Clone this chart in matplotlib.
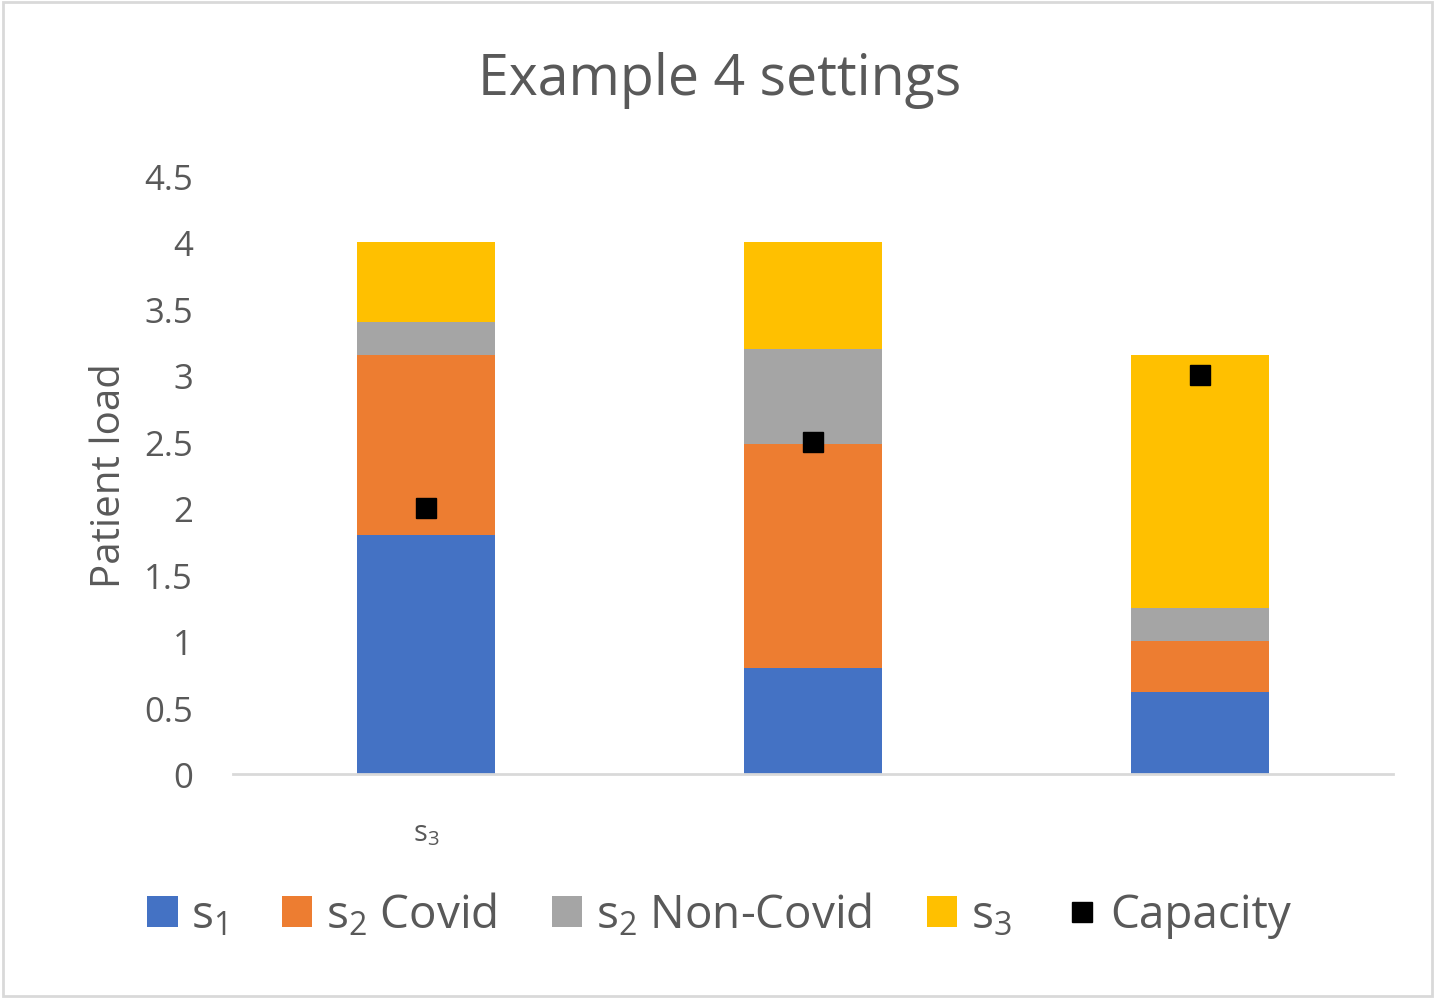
import matplotlib

matplotlib.use("Agg")
import matplotlib.pyplot as plt
import numpy as np
from matplotlib.lines import Line2D
from matplotlib.patches import Patch, Rectangle

# values
categories = ["$\\mathregular{s_3}$", "", ""]
s1 = [1.8, 0.8, 0.62]
s2_covid = [1.35, 1.68, 0.38]
s2_noncovid = [0.25, 0.72, 0.25]
s3 = [0.6, 0.8, 1.9]
capacity = [2.0, 2.5, 3.0]

series_labels = ["$\\mathregular{s_1}$", "$\\mathregular{s_2}$ Covid",
                 "$\\mathregular{s_2}$ Non-Covid", "$\\mathregular{s_3}$"]
colors = ["#4472C4", "#ED7D31", "#A5A5A5", "#FFC000"]
text_gray = "#595959"

plt.rcParams["font.family"] = ["Open Sans", "DejaVu Sans"]
plt.rcParams["mathtext.fontset"] = "custom"
plt.rcParams["mathtext.rm"] = "Open Sans"

fig = plt.figure(figsize=(14.39, 10.03), dpi=100)
ax = fig.add_axes([0.162, 0.2273, 0.806, 0.5962])

x = np.arange(len(categories))
bottom = np.zeros(len(categories))
for vals, col, lab in zip([s1, s2_covid, s2_noncovid, s3], colors, series_labels):
    ax.bar(x, vals, width=0.357, bottom=bottom, color=col, label=lab, zorder=2)
    bottom += np.array(vals)

ax.plot(x, capacity, linestyle="none", marker="s", markersize=15,
        color="black", zorder=3)

ax.set_xlim(-0.5, 2.5)
ax.set_ylim(0, 4.5)
ax.set_yticks(np.arange(0, 4.51, 0.5))
ax.set_yticklabels(["0", "0.5", "1", "1.5", "2", "2.5", "3", "3.5", "4", "4.5"])
ax.set_xticks(x)
ax.set_xticklabels(categories)
ax.tick_params(axis="y", length=0, labelsize=25, labelcolor=text_gray, pad=29)
ax.tick_params(axis="x", length=0, labelsize=21, labelcolor=text_gray, pad=32)

for side in ["top", "right", "left"]:
    ax.spines[side].set_visible(False)
ax.spines["bottom"].set_color("#D9D9D9")
ax.spines["bottom"].set_linewidth(2)

ax.set_ylabel("Patient load", fontsize=29, color=text_gray, labelpad=10)

fig.text(0.5, 0.92, "Example 4 settings", ha="center", va="center",
         fontsize=40, color=text_gray)

handles = [Patch(facecolor=c, edgecolor="none") for c in colors]
handles.append(Line2D([], [], linestyle="none", marker="s", markersize=15,
                      color="black"))
labels = series_labels + ["Capacity"]
fig.legend(handles, labels, loc="center", bbox_to_anchor=(0.5, 0.087),
           ncol=5, frameon=False, fontsize=33, labelcolor=text_gray,
           handlelength=0.66, handleheight=0.66, handletextpad=0.3,
           columnspacing=1.2)

# light chart-area border
fig.add_artist(Rectangle((0.002, 0.006), 0.993, 0.991, transform=fig.transFigure,
                         fill=False, edgecolor="#D9D9D9", linewidth=2))

fig.savefig("out.png", dpi=100)
